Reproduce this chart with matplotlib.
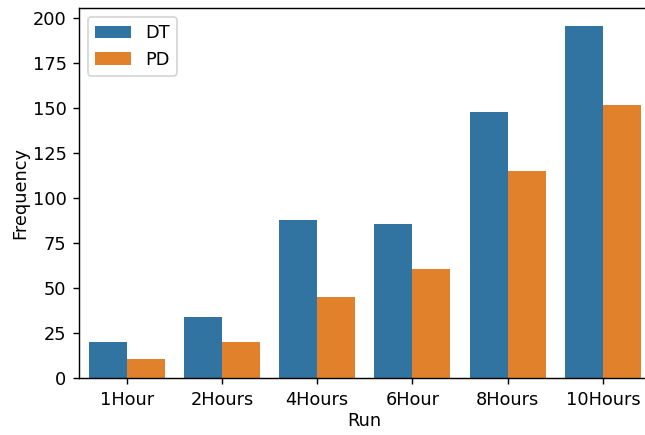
import matplotlib
matplotlib.use('Agg')
import matplotlib.pyplot as plt
import seaborn as sns
import pandas as pd

runs = ['1Hour', '2Hours', '4Hours', '6Hour', '8Hours', '10Hours']
dt_freq = [20, 34, 88, 86, 148, 196]
pd_freq = [11, 20, 45, 61, 115, 152]

df = pd.DataFrame({
    'Run': runs * 2,
    'Frequency': dt_freq + pd_freq,
    'Type': ['DT'] * len(runs) + ['PD'] * len(runs),
})

dpi = 128
fig = plt.figure(figsize=(645 / dpi, 435 / dpi), dpi=dpi)
ax = fig.add_axes([0.1225, 0.1303, 0.886, 0.8513])

sns.barplot(data=df, x='Run', y='Frequency', hue='Type', ax=ax,
            palette=['#1f77b4', '#ff7f0e'], saturation=0.75, errorbar=None)

ax.set_xlim(-0.5, 5.5)
ax.set_ylim(0, 205.8)
ax.set_xlabel('Run', labelpad=2)
ax.set_ylabel('Frequency', labelpad=2)
ax.legend(loc='upper left', title=None)

fig.savefig('out.png', dpi=dpi)
